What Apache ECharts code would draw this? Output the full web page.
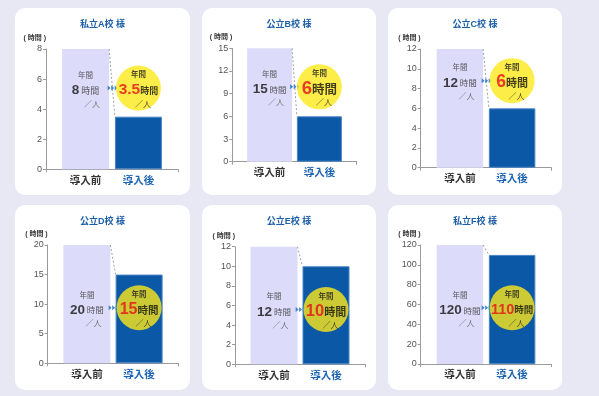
<!DOCTYPE html>
<html><head><meta charset="utf-8">
<script src="https://cdn.jsdelivr.net/npm/echarts@6/dist/echarts.min.js"></script>
<style>
html,body{margin:0;padding:0;width:599px;height:396px;background:#e8e8f5;overflow:hidden;}
.card{position:absolute;background:#fff;border-radius:10px;overflow:hidden;}
.card div.c{position:absolute;left:0;top:0;width:100%;height:100%;}
</style></head>
<body>
<script>
// ---- data ----
const schools = ['私立A校 様','公立B校 様','公立C校 様','公立D校 様','公立E校 様','私立F校 様'];
const categories = ['導入前','導入後'];
const beforeHours = [8, 15, 12, 20, 12, 120];
const afterHours = [3.5, 6, 6, 15, 10, 110];
const yMax = [8, 15, 12, 20, 12, 120];
const yInterval = [2, 3, 2, 5, 2, 20];
const calloutLevel = [5.4, 9.9, 8.8, 9.4, 5.6, 56.7];
const axisName = '( 時間 )';
const yearText = '年間';
const unitText = '時間';
const perText = '／人';

// ---- layout (positions / sizes / styles) ----
const layouts = [
  {card:[15,8,175,187],  grid:{left:31,right:12,top:41,bottom:25.7},   bw:47, numL:13.5, unitL:9, numR:15.5, unitR:9},
  {card:[202,8,174,187], grid:{left:30.3,right:19.3,top:40.3,bottom:33.3}, bw:45, numL:13.5, unitL:8.5, numR:18.5, unitR:12.5},
  {card:[388,8,174,187], grid:{left:32.7,right:10.7,top:41,bottom:27.3}, bw:46.5, numL:13.5, unitL:8.5, numR:17.5, unitR:11},
  {card:[15,205,175,185], grid:{left:32.7,right:11.7,top:40,bottom:26.7}, bw:47, numL:13.5, unitL:8.5, numR:16, unitR:10.5},
  {card:[202,205,174,185],grid:{left:33,right:11,top:41.7,bottom:25.7},  bw:47, numL:13.5, unitL:8.5, numR:16.5, unitR:11},
  {card:[388,205,174,185],grid:{left:32.7,right:10.7,top:40,bottom:26},  bw:46.5, numL:13.5, unitL:8.5, numR:14.5, unitR:9.5}
];
const FONT = "'Liberation Sans','Noto Sans CJK JP',sans-serif";
const CJK = "'Noto Sans CJK JP',sans-serif";

layouts.forEach((L, i) => {
  const card = document.createElement('div');
  card.className = 'card';
  card.style.left = L.card[0] + 'px';
  card.style.top = L.card[1] + 'px';
  card.style.width = L.card[2] + 'px';
  card.style.height = L.card[3] + 'px';
  const c = document.createElement('div');
  c.className = 'c';
  card.appendChild(c);
  document.body.appendChild(card);

  const W = L.card[2] - L.grid.left - L.grid.right;
  const half = L.bw / 2 / W;
  const xs = [0.3, 0.7];

  const chart = echarts.init(c, null, {renderer: 'canvas'});
  chart.setOption({
    animation: false,
    title: {
      text: schools[i], left: 'center', top: 11, padding: 0,
      textStyle: {fontSize: 9, fontWeight: 'bold', color: '#1d5fa8', fontFamily: FONT, lineHeight: 12}
    },
    grid: L.grid,
    xAxis: {
      type: 'value', min: 0, max: 1,
      axisLine: {show: true, lineStyle: {color: '#9a9a9a', width: 1}},
      axisTick: {show: true, customValues: [0, 1], length: 3, lineStyle: {color: '#9a9a9a'}},
      splitLine: {show: false},
      axisLabel: {
        customValues: xs, margin: 5,
        formatter: v => (v < 0.5 ? '{b|' + categories[0] + '}' : '{a|' + categories[1] + '}'),
        rich: {
          b: {fontSize: 10.5, fontWeight: 'bold', color: '#333', fontFamily: CJK},
          a: {fontSize: 10.5, fontWeight: 'bold', color: '#1d64b2', fontFamily: CJK}
        }
      }
    },
    yAxis: {
      type: 'value', min: 0, max: yMax[i], interval: yInterval[i],
      name: axisName, nameLocation: 'end', nameGap: 11,
      nameTextStyle: {fontSize: 7, fontWeight: 'bold', color: '#333', align: 'right', verticalAlign: 'middle', fontFamily: FONT},
      axisLine: {show: true, lineStyle: {color: '#9a9a9a', width: 1}},
      axisTick: {show: true, length: 3, lineStyle: {color: '#9a9a9a'}},
      axisLabel: {fontSize: 9, color: '#555', margin: 4, fontFamily: FONT},
      splitLine: {show: false}
    },
    series: [
      {
        type: 'bar', barWidth: L.bw, z: 2,
        data: [
          {value: [xs[0], beforeHours[i]], itemStyle: {color: '#dcdcfa'}},
          {value: [xs[1], afterHours[i]], itemStyle: {color: '#0b58a6', borderColor: '#4c84c4', borderWidth: 1}}
        ],
        markLine: {
          silent: true, symbol: 'none', label: {show: false},
          lineStyle: {type: [2, 2], color: '#a0a0a0', width: 1},
          data: [[{coord: [xs[0] + half, beforeHours[i]]}, {coord: [xs[1] - half, afterHours[i]]}]]
        }
      },
      {
        type: 'scatter', z: 4, symbolSize: 2, itemStyle: {color: 'rgba(0,0,0,0)'},
        data: [[xs[0], calloutLevel[i]]],
        label: {
          show: true, position: 'inside', fontFamily: CJK,
          formatter: '{y|' + yearText + '}\n{n|' + beforeHours[i] + '}{u| ' + unitText + '}\n{s|' + perText + '}',
          rich: {
            y: {fontSize: 7.5, color: '#333', lineHeight: 15, fontFamily: CJK},
            n: {fontSize: L.numL, fontWeight: 'bold', color: '#111', lineHeight: 16, fontFamily: FONT},
            u: {fontSize: L.unitL, color: '#333', lineHeight: 16, fontFamily: CJK},
            s: {fontSize: 8, color: '#555', lineHeight: 10, padding: [0, 0, 0, 13], fontFamily: CJK}
          }
        }
      },
      {
        type: 'scatter', z: 5, symbol: 'path://M0,0 L3,2.5 L0,5 Z M3.5,0 L6.5,2.5 L3.5,5 Z M7,0 L10,2.5 L7,5 Z',
        symbolSize: [10, 5], itemStyle: {color: '#1a6cc4'},
        data: [[0.505, calloutLevel[i]]]
      },
      {
        type: 'scatter', z: 6, symbol: 'circle', symbolSize: 45,
        itemStyle: {color: '#fde81a'},
        data: [[xs[1], calloutLevel[i]]],
        label: {
          show: true, position: 'inside',
          formatter: '{y|' + yearText + '}\n{n|' + afterHours[i] + '}{u|' + unitText + '}\n{s|' + perText + '}',
          rich: {
            y: {fontSize: 7.5, fontWeight: 'bold', color: '#222', lineHeight: 14, fontFamily: CJK},
            n: {fontSize: L.numR, fontWeight: 'bold', color: '#e60f17', lineHeight: 17, fontFamily: FONT},
            u: {fontSize: L.unitR, fontWeight: 'bold', color: '#111', lineHeight: 17, fontFamily: CJK},
            s: {fontSize: 8, color: '#222', lineHeight: 10, padding: [0, 0, 0, 9], fontFamily: CJK}
          }
        }
      }
    ]
  });
});
</script>
</body></html>
